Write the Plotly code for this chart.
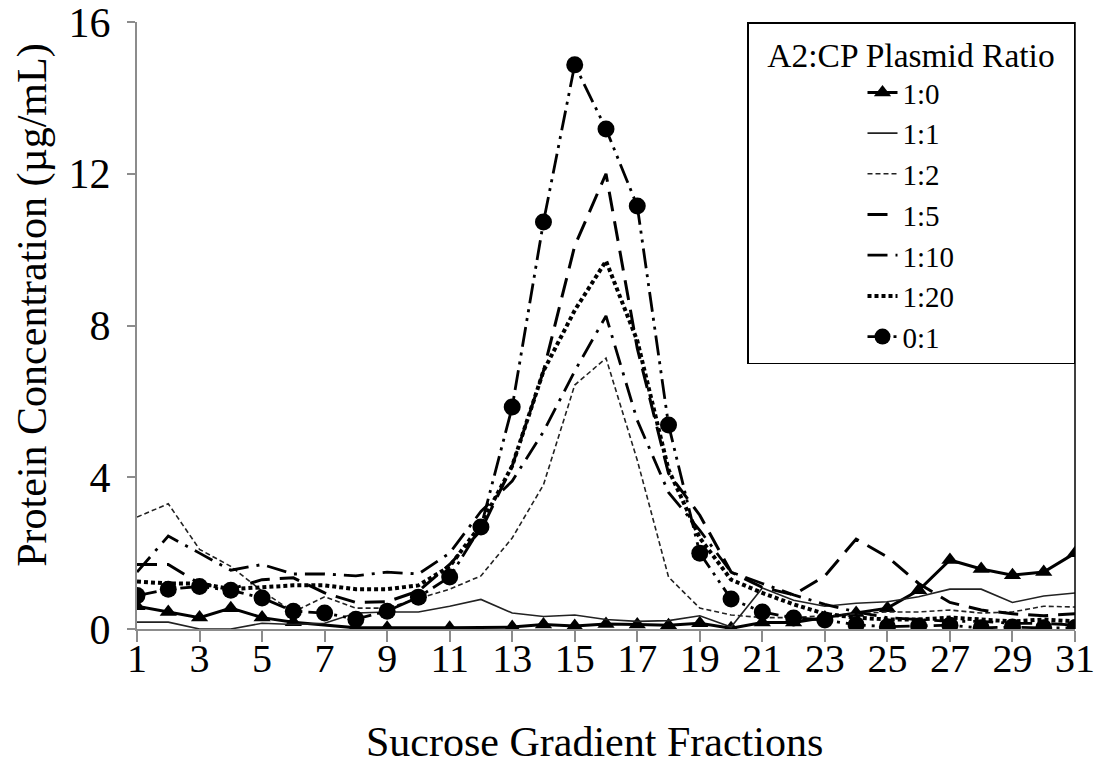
import plotly.graph_objects as go

fractions = list(range(1, 32))

r_1_0 = [0.60, 0.45, 0.30, 0.55, 0.30, 0.18, None, 0.03, 0.03, None, 0.03, None,
         0.05, 0.12, 0.08, 0.13, 0.12, 0.10, 0.15, 0.02, 0.17, 0.17, 0.30, 0.42,
         0.55, 1.02, 1.82, 1.58, 1.42, 1.50, 2.00]
r_1_1 = [0.18, 0.18, 0.00, 0.00, 0.15, 0.12, 0.15, 0.42, 0.45, 0.45, 0.60, 0.78,
         0.42, 0.33, 0.37, 0.25, 0.20, 0.22, 0.35, 0.05, 1.08, 0.76, 0.60, 0.68,
         0.72, 0.85, 1.05, 1.05, 0.70, 0.87, 0.95]
r_1_2 = [2.95, 3.30, 2.10, 1.65, 1.00, 0.45, 0.85, 0.55, 0.55, 0.80, 1.05, 1.40,
         2.40, 3.80, 6.43, 7.14, 4.45, 1.37, 0.55, 0.37, 0.30, 0.30, 0.35, 0.40,
         0.45, 0.45, 0.50, 0.42, 0.45, 0.60, 0.58]
r_1_5 = [1.70, 1.70, 1.20, 1.05, 1.30, 1.35, 0.95, 0.70, 0.72, 1.00, 1.70, 2.60,
         4.30, 6.80, 10.10, 12.00, 7.40, 4.10, 3.00, 1.50, 1.10, 0.90, 1.40, 2.37,
         1.90, 1.20, 0.70, 0.50, 0.40, 0.35, 0.40]
r_1_10 = [1.50, 2.45, 2.00, 1.55, 1.70, 1.45, 1.45, 1.40, 1.50, 1.45, 2.00, 3.10,
          3.90, 5.20, 6.80, 8.25, 5.50, 3.60, 2.60, 1.50, 1.20, 0.90, 0.65, 0.45,
          0.30, 0.25, 0.20, 0.20, 0.15, 0.15, 0.10]
r_1_20 = [1.25, 1.20, 1.20, 1.05, 1.10, 1.15, 1.15, 1.05, 1.05, 1.15, 1.65, 2.75,
          4.30, 6.80, 8.40, 9.70, 7.60, 4.20, 2.40, 1.30, 0.95, 0.65, 0.40, 0.30,
          0.25, 0.25, 0.30, 0.25, 0.20, 0.25, 0.20]
r_0_1 = [0.88, 1.05, 1.12, 1.02, 0.82, 0.47, 0.42, 0.26, 0.47, 0.84, 1.37, 2.69,
         5.85, 10.73, 14.87, 13.18, 11.15, 5.38, 2.00, 0.79, 0.45, 0.29, 0.24, 0.11,
         0.06, 0.08, 0.10, 0.03, 0.05, 0.03, 0.03]

x_ticks = list(range(1, 32, 2))
y_ticks = [0, 4, 8, 12, 16]

FONT = "Liberation Serif"
NB = "\u00a0"

fig = go.Figure()

fig.add_trace(go.Scatter(x=fractions, y=r_1_0, name="1:0", mode="lines+markers",
                         connectgaps=True,
                         line=dict(color="black", width=3),
                         marker=dict(symbol="triangle-up", size=15, color="black")))
fig.add_trace(go.Scatter(x=fractions, y=r_1_1, name="1:1", mode="lines",
                         line=dict(color="#222222", width=1.6)))
fig.add_trace(go.Scatter(x=fractions, y=r_1_2, name="1:2", mode="lines",
                         line=dict(color="#222222", width=1.6, dash="5px,3px")))
fig.add_trace(go.Scatter(x=fractions, y=r_1_5, name="1:5", mode="lines",
                         line=dict(color="black", width=3, dash="20px,10px")))
fig.add_trace(go.Scatter(x=fractions, y=r_1_10, name="1:10", mode="lines",
                         line=dict(color="black", width=2.8, dash="20px,8px,3px,8px")))
fig.add_trace(go.Scatter(x=fractions, y=r_1_20, name="1:20", mode="lines",
                         line=dict(color="black", width=4, dash="4px,3px")))
fig.add_trace(go.Scatter(x=fractions, y=r_0_1, name="0:1", mode="lines+markers",
                         line=dict(color="black", width=2.8,
                                   dash="20px,6px,3px,6px,3px,6px"),
                         marker=dict(symbol="circle", size=17, color="black")))

fig.update_layout(
    width=1094, height=766,
    margin=dict(l=137, r=19, t=22, b=137, autoexpand=False),
    paper_bgcolor="white", plot_bgcolor="white",
    font=dict(family=FONT, color="black", size=36),
    showlegend=True,
    legend=dict(
        x=1, xanchor="right", y=1, yanchor="top",
        bgcolor="white", bordercolor="black", borderwidth=1.5,
        font=dict(family=FONT, size=29, color="black"),
        title=dict(text=NB * 2 + "A2:CP Plasmid Ratio" + NB * 2, side="top center",
                   font=dict(family=FONT, size=33.5, color="black")),
        indentation=114,
        tracegroupgap=0,
    ),
    xaxis=dict(
        range=[1, 31], tickmode="array", tickvals=x_ticks,
        ticktext=[str(v) for v in x_ticks],
        showline=True, linecolor="#8c8c8c", linewidth=2,
        ticks="outside", ticklen=11, tickcolor="#8c8c8c", tickwidth=1.5,
        showgrid=False, zeroline=False, automargin=False,
        ticklabeloverflow="allow", ticklabelstandoff=-18,
        tickfont=dict(family=FONT, size=40, color="black"),
    ),
    yaxis=dict(
        range=[0, 16], tickmode="array", tickvals=y_ticks,
        ticktext=[str(v) for v in y_ticks],
        showline=True, linecolor="#8c8c8c", linewidth=2,
        ticks="outside", ticklen=8, tickcolor="#8c8c8c", tickwidth=1.5,
        showgrid=False, zeroline=False, automargin=False,
        ticklabeloverflow="allow", ticklabelstandoff=8,
        tickfont=dict(family=FONT, size=42, color="black"),
    ),
    annotations=[
        dict(text="Sucrose Gradient Fractions", xref="paper", yref="paper",
             x=0.488, y=-0.186, xanchor="center", yanchor="middle",
             showarrow=False, font=dict(family=FONT, size=42, color="black")),
        dict(text="Protein Concentration (µg/mL)", xref="paper", yref="paper",
             x=-0.111, y=0.534, xanchor="center", yanchor="middle", textangle=-90,
             showarrow=False, font=dict(family=FONT, size=42, color="black")),
    ],
    shapes=[dict(type="line", xref="paper", yref="paper", x0=1, x1=1, y0=0, y1=1,
                 line=dict(color="black", width=1.5))],
)

fig.write_html("out.html",
               config={"displayModeBar": False},
               post_script="document.body.style.margin='0';document.body.style.overflow='hidden';")
